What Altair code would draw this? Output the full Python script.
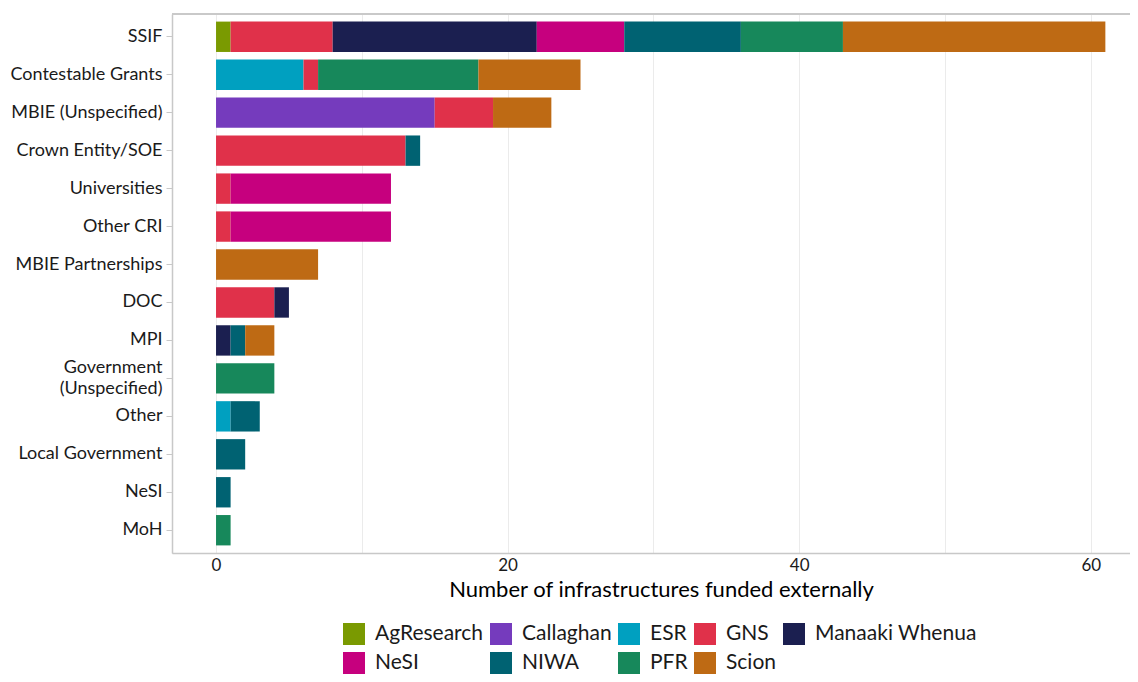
import altair as alt
import pandas as pd

categories = ["SSIF", "Contestable Grants", "MBIE (Unspecified)", "Crown Entity/SOE",
              "Universities", "Other CRI", "MBIE Partnerships", "DOC", "MPI",
              "Government (Unspecified)", "Other", "Local Government", "NeSI", "MoH"]

institutions = ["AgResearch", "Callaghan", "ESR", "GNS", "Manaaki Whenua",
                "NeSI", "NIWA", "PFR", "Scion"]
colors = ["#7a9a01", "#753bbd", "#00a0c0", "#e0314a", "#1b1f50",
          "#c6007e", "#006272", "#17885b", "#be6a14"]

# one entry per bar segment
seg_source = ["SSIF"] * 7 + ["Contestable Grants"] * 4 + ["MBIE (Unspecified)"] * 3 + \
    ["Crown Entity/SOE"] * 2 + ["Universities"] * 2 + ["Other CRI"] * 2 + \
    ["MBIE Partnerships"] + ["DOC"] * 2 + ["MPI"] * 3 + ["Government (Unspecified)"] + \
    ["Other"] * 2 + ["Local Government"] + ["NeSI"] + ["MoH"]
seg_inst = ["AgResearch", "GNS", "Manaaki Whenua", "NeSI", "NIWA", "PFR", "Scion",
            "ESR", "GNS", "PFR", "Scion",
            "Callaghan", "GNS", "Scion",
            "GNS", "NIWA",
            "GNS", "NeSI",
            "GNS", "NeSI",
            "Scion",
            "GNS", "Manaaki Whenua",
            "Manaaki Whenua", "NIWA", "Scion",
            "PFR",
            "ESR", "NIWA",
            "NIWA",
            "NIWA",
            "PFR"]
seg_count = [1, 7, 14, 6, 8, 7, 18,
             6, 1, 11, 7,
             15, 4, 4,
             13, 1,
             1, 11,
             1, 11,
             7,
             4, 1,
             1, 1, 2,
             4,
             1, 2,
             2,
             1,
             1]

df = pd.DataFrame({"source": seg_source, "institution": seg_inst, "count": seg_count})
df["order"] = df["institution"].map({n: i for i, n in enumerate(institutions)})

FONT = "Lato"
W, H = 958, 539
PAD_L, PAD_T = 164, 6

bars = alt.Chart(df).mark_bar().encode(
    y=alt.Y("source:N", sort=categories, title=None,
            scale=alt.Scale(paddingInner=0.2, paddingOuter=0.2),
            axis=alt.Axis(labelFontSize=18, labelColor="#1a1a1a", labelFont=FONT,
                          tickColor="#c8c8c8", tickSize=6, labelPadding=4,
                          domainColor="#c8c8c8", domainWidth=1.5, grid=False,
                          labelLineHeight=21.5, labelLimit=300,
                          labelOffset={"condition": {"test": "datum.value == 'Government (Unspecified)'",
                                                     "value": -10.5},
                                       "value": 0},
                          labelExpr="datum.label == 'Government (Unspecified)' ? ['Government', '(Unspecified)'] : datum.label")),
    x=alt.X("count:Q", stack="zero",
            scale=alt.Scale(domain=[-3.02, 62.69], nice=False, zero=False),
            title="Number of infrastructures funded externally",
            axis=alt.Axis(values=[0, 10, 20, 30, 40, 50, 60],
                          labelExpr="datum.value % 20 == 0 ? datum.label : ''",
                          ticks=False, labelFontSize=17, labelColor="#1a1a1a", labelFont=FONT,
                          labelPadding=4, gridColor="#ebebeb", gridWidth=1,
                          domainColor="#c8c8c8", domainWidth=1.5,
                          titleFontSize=22, titleFont=FONT, titleFontWeight="normal",
                          titleColor="#000000", titlePadding=6, titleX=489)),
    color=alt.Color("institution:N", scale=alt.Scale(domain=institutions, range=colors),
                    legend=alt.Legend(title=None, orient="none", legendX=171, legendY=609,
                                      direction="horizontal",
                                      columns=5, symbolType="square", symbolSize=484,
                                      symbolStrokeWidth=0, labelFontSize=21, labelFont=FONT,
                                      labelColor="#1a1a1a", rowPadding=7, columnPadding=6,
                                      labelOffset=10, labelLimit=400, padding=0)),
    order=alt.Order("order:Q"),
)

top_line = alt.Chart(df).mark_rule(color="#c8c8c8", strokeWidth=1.5).encode(
    x=alt.value(0), x2=alt.value(W), y=alt.value(0)
)

chart = alt.layer(bars, top_line).properties(
    width=W, height=H,
    autosize=alt.AutoSizeParams(type="none"),
    padding={"left": PAD_L, "top": PAD_T, "right": 0, "bottom": 666 - PAD_T - H}
).configure_view(stroke=None).configure(font=FONT)

chart.save("out.html", embed_options={"renderer": "svg", "actions": False})
